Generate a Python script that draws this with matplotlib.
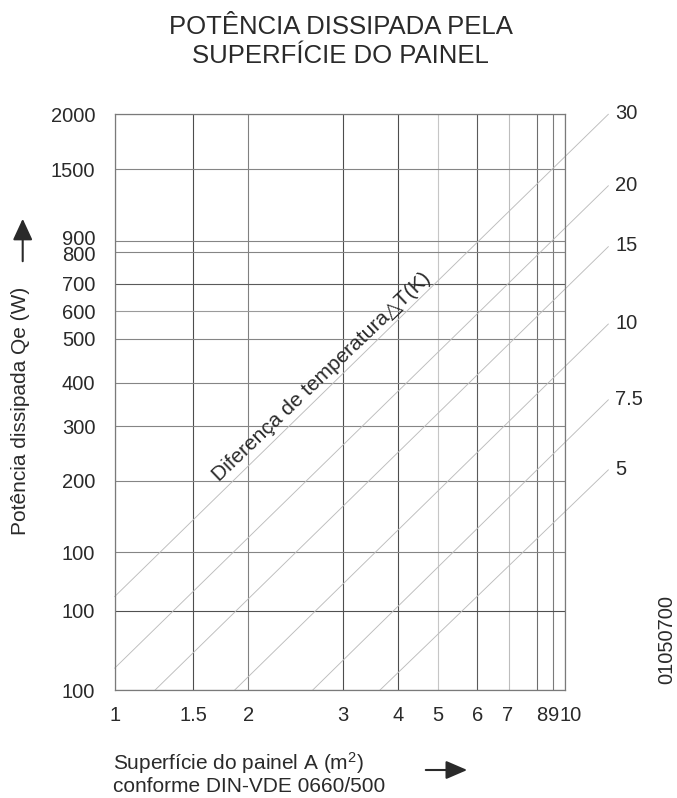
"""Potência dissipada pela superfície do painel (nomograma)"""

import numpy as np
import matplotlib

matplotlib.use("Agg")
import matplotlib.pyplot as plt
from matplotlib.ticker import FixedLocator, FixedFormatter, NullLocator
from matplotlib.transforms import ScaledTranslation

plt.rcParams["font.family"] = ["Liberation Sans", "DejaVu Sans"]
plt.rcParams["mathtext.fontset"] = "custom"
plt.rcParams["mathtext.rm"] = "Liberation Sans"
plt.rcParams["mathtext.it"] = "Liberation Sans:italic"

# axis values and the labels printed on them
AREA_TICKS = [1, 1.5, 2, 3, 4, 5, 6, 7, 8, 9, 10]
AREA_LABELS = ["1", "1.5", "2", "3", "4", "5", "6", "7", "8", "9", "10"]
POWER_TICKS = [100, 150, 200, 300, 400, 500, 600, 700, 800, 900, 1000, 1500, 2000]
POWER_LABELS = ["100", "100", "100", "200", "300", "400", "500", "600", "700",
                "800", "900", "1500", "2000"]

# temperature difference lines: (area, power) at start and end
DELTA_T = ["30", "20", "15", "10", "7.5", "5"]
A_START = [1, 1, 1.23, 1.86, 2.63, 3.63]
P_START = [161, 112, 100, 100, 100, 100]
A_END = [12.5, 12.5, 12.5, 12.5, 12.5, 12.5]
P_END = [2000, 1366, 947, 652, 458, 318]

# the hand drawn grid is not a clean log grid: where each value sits along its axis
X_GRID_FRAC = [0, 0.1747, 0.2969, 0.508, 0.6302, 0.7184, 0.8058, 0.8769, 0.9378, 0.9733, 1.0]
Y_GRID_FRAC = [0, 0.1377, 0.2396, 0.3634, 0.4583, 0.534, 0.6099, 0.658, 0.7054,
               0.7604, 0.7806, 0.9045, 1.0]

X_GRID_COLORS = ["#7a7a7a", "#4d4d4d", "#808080", "#4d4d4d", "#4d4d4d", "#c6c6c6",
                 "#5a5a5a", "#bdbdbd", "#6e6e6e", "#7a7a7a", "#7a7a7a"]
Y_GRID_COLORS = ["#555555", "#505050", "#858585", "#858585", "#858585", "#858585",
                 "#858585", "#9a9a9a", "#5a5a5a", "#858585", "#858585", "#858585", "#858585"]

# small label shifts (points) where the printed labels sit off their grid line
X_LABEL_SHIFT = {"7": -1.5, "8": 3.5, "9": 0.5, "10": 4.5}
Y_LABEL_SHIFT = {10: 2.0, 9: -0.8}

TEXT = "#2a2a2a"


def piecewise_log(values, frac):
    logs = np.log10(values)
    slope = (frac[-1] - frac[0]) / (logs[-1] - logs[0])

    def forward(v):
        lv = np.log10(np.maximum(np.asarray(v, dtype=float), 1e-12))
        out = np.interp(lv, logs, frac)
        out = np.where(lv > logs[-1], frac[-1] + (lv - logs[-1]) * slope, out)
        out = np.where(lv < logs[0], frac[0] + (lv - logs[0]) * slope, out)
        return out

    def inverse(u):
        u = np.asarray(u, dtype=float)
        lv = np.interp(u, frac, logs)
        lv = np.where(u > frac[-1], logs[-1] + (u - frac[-1]) / slope, lv)
        lv = np.where(u < frac[0], logs[0] + (u - frac[0]) / slope, lv)
        return 10 ** lv

    return forward, inverse


def make_plot():
    W, H = 677, 798
    fig = plt.figure(figsize=(W / 100, H / 100), dpi=100)
    ax = fig.add_axes([114.7 / W, (H - 690.3) / H, 450 / W, 576 / H])

    ax.set_xscale("function", functions=piecewise_log(AREA_TICKS, X_GRID_FRAC))
    ax.set_yscale("function", functions=piecewise_log(POWER_TICKS, Y_GRID_FRAC))
    ax.set_xlim(1, 10)
    ax.set_ylim(100, 2000)

    for v, c in zip(AREA_TICKS, X_GRID_COLORS):
        ax.axvline(v, color=c, lw=0.8, zorder=1)
    for v, c in zip(POWER_TICKS, Y_GRID_COLORS):
        ax.axhline(v, color=c, lw=0.8, zorder=1)

    for dt, a0, p0, a1, p1 in zip(DELTA_T, A_START, P_START, A_END, P_END):
        ax.plot([a0, a1], [p0, p1], color="#bcbcbc", lw=0.65, clip_on=False, zorder=2)
        ax.annotate(dt, xy=(a1, p1), xytext=(5, 0.5), textcoords="offset points",
                    ha="left", va="center", fontsize=14.5, color=TEXT,
                    annotation_clip=False)

    ax.xaxis.set_major_locator(FixedLocator(AREA_TICKS))
    ax.xaxis.set_major_formatter(FixedFormatter(AREA_LABELS))
    ax.yaxis.set_major_locator(FixedLocator(POWER_TICKS))
    ax.yaxis.set_major_formatter(FixedFormatter(POWER_LABELS))
    ax.xaxis.set_minor_locator(NullLocator())
    ax.yaxis.set_minor_locator(NullLocator())
    ax.tick_params(length=0, labelsize=14.5, labelcolor=TEXT)
    ax.tick_params(axis="x", pad=11)
    ax.tick_params(axis="y", pad=14)
    for side in ax.spines:
        ax.spines[side].set_color("#7a7a7a")
        ax.spines[side].set_linewidth(0.9)

    for label, tick in zip(AREA_LABELS, ax.xaxis.get_major_ticks()):
        if label in X_LABEL_SHIFT:
            shift = ScaledTranslation(X_LABEL_SHIFT[label] / 72, 0, fig.dpi_scale_trans)
            tick.label1.set_transform(tick.label1.get_transform() + shift)
    for i, tick in enumerate(ax.yaxis.get_major_ticks()):
        if i in Y_LABEL_SHIFT:
            shift = ScaledTranslation(0, Y_LABEL_SHIFT[i] / 72, fig.dpi_scale_trans)
            tick.label1.set_transform(tick.label1.get_transform() + shift)

    ax.text(0.4607, 0.544, "Diferença de temperatura\u25b3T(K)", transform=ax.transAxes,
            rotation=43.6, rotation_mode="anchor", ha="center", va="center",
            fontsize=15, color=TEXT)

    fig.text(0.503, 1 - 33.5 / H, "POTÊNCIA DISSIPADA PELA", ha="center",
             va="baseline", fontsize=18.5, color=TEXT)
    fig.text(0.503, 1 - 62.7 / H, "SUPERFÍCIE DO PAINEL", ha="center",
             va="baseline", fontsize=18.5, color=TEXT)

    fig.text(21 / W, 1 - 411 / H, "Potência dissipada Qe (W)", rotation=90,
             ha="center", va="center", fontsize=15, color=TEXT)
    ax.annotate("", xy=(22.7, H - 216), xytext=(22.7, H - 264),
                xycoords="figure pixels", textcoords="figure pixels",
                arrowprops=dict(arrowstyle="-|>,head_length=0.65,head_width=0.3",
                                mutation_scale=20, lw=1.5, color=TEXT))

    fig.text(113 / W, 1 - 763 / H, "Superfície do painel A (m$^2$)",
             ha="left", va="center", fontsize=15, color=TEXT)
    fig.text(113 / W, 1 - 786 / H, "conforme DIN-VDE 0660/500",
             ha="left", va="center", fontsize=15, color=TEXT)
    ax.annotate("", xy=(470, H - 770), xytext=(423, H - 770),
                xycoords="figure pixels", textcoords="figure pixels",
                arrowprops=dict(arrowstyle="-|>,head_length=0.65,head_width=0.28",
                                mutation_scale=20, lw=1.5, color=TEXT))

    fig.text(667 / W, 1 - 640 / H, "01050700", rotation=90, ha="center",
             va="center", fontsize=14.5, color=TEXT)

    fig.savefig("out.png", dpi=100)


if __name__ == "__main__":
    make_plot()
